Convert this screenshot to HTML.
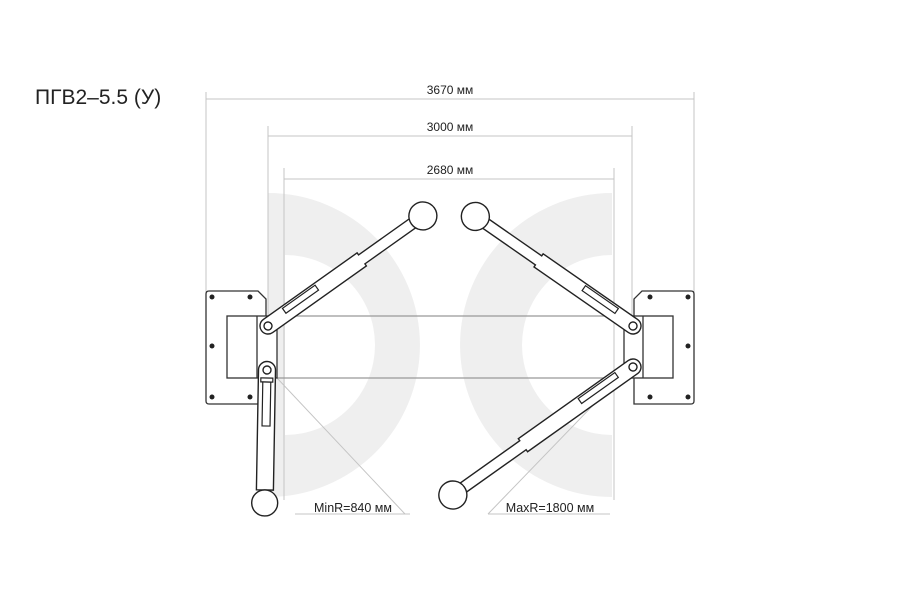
<!DOCTYPE html>
<html><head><meta charset="utf-8"><style>
html,body{margin:0;padding:0;background:#fff;width:900px;height:600px;overflow:hidden}
svg{display:block}
text{font-family:"Liberation Sans",sans-serif}
</style></head><body>
<svg width="900" height="600" viewBox="0 0 900 600" xmlns="http://www.w3.org/2000/svg">
<!-- background D and C shapes -->
<path d="M268,193 A152,152 0 0 1 268,497 Z" fill="#efefef"/>
<path d="M285,255 A90,90 0 0 1 285,435 Z" fill="#fff"/>
<path d="M612,193 A152,152 0 0 0 612,497 L612,435 A90,90 0 0 1 612,255 Z" fill="#efefef"/>

<!-- dimension lines -->
<g stroke="#c4c4c4" stroke-width="1" fill="none">
<line x1="206" y1="92" x2="206" y2="292"/><line x1="694" y1="92" x2="694" y2="292"/>
<line x1="206" y1="99" x2="694" y2="99"/>
<line x1="268" y1="126" x2="268" y2="316"/><line x1="632" y1="126" x2="632" y2="316"/>
<line x1="268" y1="136" x2="632" y2="136"/>
<line x1="284" y1="168" x2="284" y2="500"/><line x1="614" y1="168" x2="614" y2="500"/>
<line x1="284" y1="179" x2="614" y2="179"/>
<line x1="277" y1="378" x2="405" y2="514"/><line x1="295" y1="514" x2="410" y2="514"/>
<line x1="630" y1="367" x2="488" y2="514"/><line x1="488" y1="514" x2="610" y2="514"/>
</g>
<text x="450" y="94" font-size="12" text-anchor="middle" fill="#222">3670 мм</text>
<text x="450" y="131" font-size="12" text-anchor="middle" fill="#222">3000 мм</text>
<text x="450" y="174" font-size="12" text-anchor="middle" fill="#222">2680 мм</text>
<text x="35" y="104" font-size="21" fill="#222">ПГВ2–5.5 (У)</text>
<text x="353" y="512" font-size="12.5" text-anchor="middle" fill="#222">MinR=840 мм</text>
<text x="550" y="512" font-size="12.5" text-anchor="middle" fill="#222">MaxR=1800 мм</text>

<!-- bar -->
<line x1="277" y1="316" x2="624" y2="316" stroke="#999" stroke-width="1.2"/>
<line x1="277" y1="378" x2="624" y2="378" stroke="#999" stroke-width="1.2"/>

<!-- left plate -->
<path d="M209,291 L258,291 L266,299 L266,404 L209,404 Q206,404 206,401 L206,294 Q206,291 209,291 Z" fill="#fff" stroke="#333" stroke-width="1.3"/>
<rect x="227" y="316" width="50" height="62" fill="#fff" stroke="#333" stroke-width="1.3"/>
<line x1="257" y1="316" x2="257" y2="378" stroke="#333" stroke-width="1.3"/>
<g fill="#222"><circle cx="212" cy="297" r="2.5"/><circle cx="250" cy="297" r="2.5"/><circle cx="212" cy="346" r="2.5"/><circle cx="212" cy="397" r="2.5"/><circle cx="250" cy="397" r="2.5"/></g>
<!-- right plate -->
<path d="M642,291 L691,291 Q694,291 694,294 L694,401 Q694,404 691,404 L634,404 L634,299 Z" fill="#fff" stroke="#333" stroke-width="1.3"/>
<rect x="624" y="316" width="49" height="62" fill="#fff" stroke="#333" stroke-width="1.3"/>
<line x1="643" y1="316" x2="643" y2="378" stroke="#333" stroke-width="1.3"/>
<g fill="#222"><circle cx="650" cy="297" r="2.5"/><circle cx="688" cy="297" r="2.5"/><circle cx="688" cy="346" r="2.5"/><circle cx="650" cy="397" r="2.5"/><circle cx="688" cy="397" r="2.5"/></g>

<!-- arms -->
<g stroke="#222" stroke-width="1.4" fill="#fff">
<g transform="translate(268,326) rotate(-35.4)">
  <path d="M0,-8 L115,-8 L115,-5.5 L190,-5.5 L190,5.5 L115,5.5 L115,8 L0,8 A8,8 0 0 1 0,-8 Z"/>
  <rect x="22" y="-6" width="40" height="6" fill="none" stroke-width="1.2"/>
  <circle cx="0" cy="0" r="4"/>
  <circle cx="190" cy="0" r="14"/>
</g>
<g transform="translate(267,370) rotate(91)">
  <path d="M0,-8.5 L120,-8.5 L120,8.5 L0,8.5 A8.5,8.5 0 0 1 0,-8.5 Z"/>
  <rect x="8" y="-6" width="4" height="12" fill="none" stroke-width="1.2"/>
  <rect x="12" y="-4" width="44" height="8" fill="none" stroke-width="1.2"/>
  <circle cx="0" cy="0" r="4"/>
  <circle cx="133" cy="0" r="13"/>
</g>
<g transform="translate(633,326) rotate(214.8)">
  <path d="M0,-8 L115,-8 L115,-5.5 L192,-5.5 L192,5.5 L115,5.5 L115,8 L0,8 A8,8 0 0 1 0,-8 Z"/>
  <rect x="22" y="0" width="40" height="6" fill="none" stroke-width="1.2"/>
  <circle cx="0" cy="0" r="4"/>
  <circle cx="192" cy="0" r="14"/>
</g>
<g transform="translate(633,367) rotate(144.6)">
  <path d="M0,-8 L135,-8 L135,-5.5 L221,-5.5 L221,5.5 L135,5.5 L135,8 L0,8 A8,8 0 0 1 0,-8 Z"/>
  <rect x="18" y="0" width="45" height="6" fill="none" stroke-width="1.2"/>
  <circle cx="0" cy="0" r="4"/>
  <circle cx="221" cy="0" r="14"/>
</g>
</g>
</svg>
</body></html>
